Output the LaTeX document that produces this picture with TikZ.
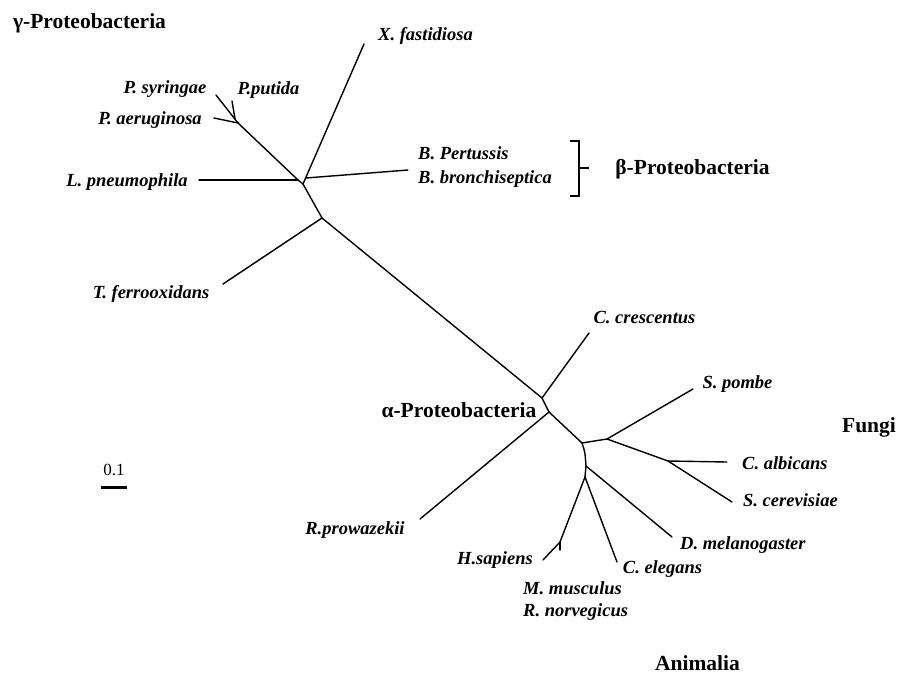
\documentclass[tikz,border=0pt]{standalone}
\usepackage{fontspec}
\setmainfont{Liberation Serif}
\begin{document}
\begin{tikzpicture}[x=1pt,y=-1pt,
  br/.style={line width=1.4pt,line cap=round,line join=round},
  sp/.style={font=\fontsize{18.5}{20}\selectfont\bfseries\itshape,inner sep=0pt,anchor=base},
  spl/.style={sp,anchor=base west},
  grp/.style={font=\fontsize{21.5}{24}\selectfont\bfseries,inner sep=0pt,anchor=base}]
\useasboundingbox (0,0) rectangle (917,685);
% junctions
\coordinate (P)  at (238,123);
\coordinate (Pu) at (235,119);
\coordinate (Ga) at (298,180);
\coordinate (G)  at (303,184);
\coordinate (Gb) at (306,178);
\coordinate (T)  at (322,218);
\coordinate (A1) at (542,398);
\coordinate (A2) at (549,412);
\coordinate (E)  at (582,443);
\coordinate (F1) at (607,439);
\coordinate (F2) at (668,461);
\coordinate (M1) at (586,466);
\coordinate (M2) at (585,477);
\coordinate (M3) at (560,542);
% leaf ends
\coordinate (lsyr) at (216,95);
\coordinate (lput) at (232,101);
\coordinate (laer) at (214,118);
\coordinate (lpne) at (199,180);
\coordinate (lxf)  at (364,44);
\coordinate (lbp)  at (408,170);
\coordinate (ltf)  at (223,284);
\coordinate (lcc)  at (589,333);
\coordinate (lrp)  at (420,519);
\coordinate (lsp)  at (693,389);
\coordinate (lca)  at (727,462);
\coordinate (lsc)  at (732,502);
\coordinate (ldm)  at (672,537);
\coordinate (lce)  at (617,562);
\coordinate (lhs)  at (543,560);
\coordinate (lmm)  at (560,550);
% branches
\draw[br] (lsyr) -- (P);
\draw[br] (lput) -- (Pu);
\draw[br] (laer) -- (P);
\draw[br] (P) -- (Ga) -- (G);
\draw[br] (lpne) -- (Ga);
\draw[br] (G) -- (lxf);
\draw[br] (Gb) -- (lbp);
\draw[br] (G) -- (T);
\draw[br] (T) -- (ltf);
\draw[br] (T) -- (A1) -- (A2) -- (E);
\draw[br] (A1) -- (lcc);
\draw[br] (A2) -- (lrp);
\draw[br] (E) -- (F1) -- (lsp);
\draw[br] (F1) -- (F2) -- (lca);
\draw[br] (F2) -- (lsc);
\draw[br] (E) .. controls (585,452) .. (M1) -- (M2);
\draw[br] (M1) -- (ldm);
\draw[br] (M2) -- (lce);
\draw[br] (M2) -- (M3) -- (lhs);
\draw[br] (M3) -- (lmm);
% bracket
\coordinate (bt) at (570,141);
\coordinate (bb) at (570,196);
\coordinate (bv1) at (579,141);
\coordinate (bv2) at (579,196);
\coordinate (bm) at (579,168);
\coordinate (bmt) at (589,168);
\draw[line width=1.3pt] (bt) -- (bv1) -- (bv2) -- (bb);
\draw[line width=1.3pt] (bm) -- (bmt);
% scale bar
\coordinate (s1) at (101,487);
\coordinate (s2) at (127,487);
\draw[line width=3pt] (s1) -- (s2);
\node[font=\fontsize{17}{19}\selectfont,inner sep=0pt,anchor=base] (scl) at (114,475) {0.1};
% labels
\node[grp] (gam) at (89.5,29) {γ-Proteobacteria};
\node[grp] (bet) at (692.5,174) {β-Proteobacteria};
\node[grp] (alp) at (459,417) {α-Proteobacteria};
\node[grp] (fun) at (869,432) {Fungi};
\node[grp] (ani) at (697.5,670) {Animalia};
\node[sp] (nxf) at (425.5,41) {X. fastidiosa};
\node[sp] (nsy) at (165,93) {P. syringae};
\node[sp] (npu) at (268.5,94) {P.putida};
\node[sp] (nae) at (150,124) {P. aeruginosa};
\node[sp] (npn) at (127,186) {L. pneumophila};
\node[spl] (nbp) at (418,159) {B. Pertussis};
\node[spl] (nbb) at (418,183) {B. bronchiseptica};
\node[sp] (ntf) at (151,298) {T. ferrooxidans};
\node[sp] (ncc) at (644.5,323) {C. crescentus};
\node[sp] (nsp) at (737.5,388) {S. pombe};
\node[spl] (nca) at (742,469) {C. albicans};
\node[spl] (nsc) at (743,506) {S. cerevisiae};
\node[sp] (nrp) at (355,534) {R.prowazekii};
\node[spl] (ndm) at (680,549) {D. melanogaster};
\node[sp] (nhs) at (495,564) {H.sapiens};
\node[sp] (nce) at (662.5,573) {C. elegans};
\node[spl] (nmm) at (523,594) {M. musculus};
\node[spl] (nrn) at (523,616) {R. norvegicus};
\end{tikzpicture}
\end{document}
